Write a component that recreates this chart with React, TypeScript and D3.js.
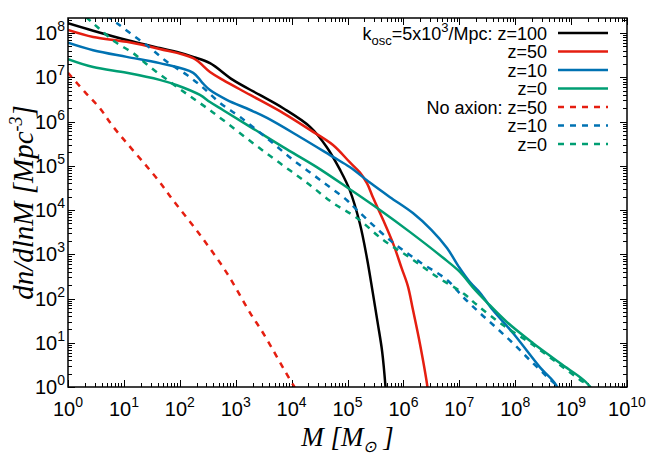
import React, { useRef, useEffect } from 'react';
import * as d3 from 'd3';

// tamanho da figura
const width = 664;
const height = 465;
const margin = { top: 18, right: 37, bottom: 78, left: 68 };

// decadas dos eixos
const xDecades = [0, 1, 2, 3, 4, 5, 6, 7, 8, 9, 10];
const yDecades = [0, 1, 2, 3, 4, 5, 6, 7, 8];

// curvas: [log10 M, log10 dn/dlnM]
const axionZ100 = [[0, 8.22], [0.45, 8.05], [1.05, 7.84], [1.64, 7.66], [1.95, 7.57], [2.24, 7.46], [2.54, 7.32], [2.95, 6.94], [3.43, 6.6], [3.85, 6.3], [4.33, 5.88], [4.63, 5.42], [4.87, 4.9], [5.04, 4.45], [5.22, 3.7], [5.35, 2.9], [5.45, 2.15], [5.54, 1.45], [5.62, 0.8], [5.68, 0], [5.7, -0.4]];
const axionZ50 = [[0, 8.07], [0.45, 7.91], [1.05, 7.8], [1.64, 7.64], [2.24, 7.43], [2.54, 7.12], [2.77, 6.94], [3.26, 6.6], [3.85, 6.19], [4.33, 5.81], [4.74, 5.47], [5.04, 5.08], [5.22, 4.85], [5.35, 4.6], [5.46, 4.27], [5.64, 3.77], [5.82, 3.23], [5.97, 2.68], [6.08, 2.28], [6.17, 1.75], [6.3, 0.95], [6.43, 0], [6.46, -0.4]];
const axionZ10 = [[0, 7.78], [0.45, 7.61], [1.05, 7.46], [1.64, 7.32], [2.24, 7.1], [2.4, 6.88], [2.54, 6.71], [2.84, 6.49], [3.26, 6.26], [3.56, 6.08], [4.15, 5.65], [4.74, 5.2], [5.04, 4.97], [5.4, 4.62], [5.76, 4.29], [6.17, 3.93], [6.5, 3.55], [6.78, 3.14], [7.0, 2.7], [7.19, 2.37], [7.37, 2.13], [7.6, 1.74], [7.96, 1.22], [8.44, 0.45], [8.75, 0], [8.78, -0.4]];
const axionZ0 = [[0, 7.41], [0.45, 7.23], [1.05, 7.1], [1.64, 6.94], [1.95, 6.82], [2.36, 6.6], [2.54, 6.44], [2.77, 6.26], [3.26, 5.88], [3.85, 5.42], [4.45, 4.97], [5.04, 4.47], [5.58, 4.0], [6.12, 3.5], [6.71, 2.92], [7.01, 2.6], [7.25, 2.24], [7.49, 1.92], [7.85, 1.47], [8.32, 0.99], [8.8, 0.54], [9.34, 0], [9.38, -0.4]];
const noAxionZ50 = [[0, 7.1], [0.3, 6.67], [0.57, 6.3], [0.81, 5.88], [1.61, 4.68], [1.88, 4.22], [2.36, 3.44], [2.84, 2.58], [3.26, 1.67], [3.49, 1.22], [4.0, 0.1], [4.05, 0], [4.08, -0.4]];
const noAxionZ10 = [[0, 9.05], [0.75, 8.34], [1.11, 8.0], [1.47, 7.66], [1.77, 7.35], [2.13, 7.05], [2.42, 6.76], [2.72, 6.42], [3.08, 6.1], [3.56, 5.62], [4.03, 5.13], [4.51, 4.68], [4.99, 4.22], [5.17, 4.0], [5.76, 3.32], [6.3, 2.82], [6.78, 2.42], [7.07, 2.03], [7.37, 1.67], [7.67, 1.33], [7.96, 0.99], [8.26, 0.61], [8.57, 0.23], [8.75, 0], [8.8, -0.4]];
const noAxionZ0 = [[0, 8.72], [0.34, 8.34], [0.52, 8.14], [0.84, 7.8], [1.16, 7.55], [1.47, 7.23], [1.82, 6.9], [2.15, 6.6], [2.49, 6.3], [2.84, 5.97], [3.31, 5.51], [3.79, 5.06], [4.28, 4.61], [4.74, 4.16], [5.17, 3.82], [5.64, 3.32], [6.12, 2.92], [6.6, 2.49], [7.07, 2.12], [7.32, 1.85], [7.78, 1.4], [8.32, 0.95], [8.8, 0.5], [9.16, 0.16], [9.34, 0], [9.38, -0.4]];

const legendLabels = ['z=100', 'z=50', 'z=10', 'z=0', 'No axion: z=50', 'z=10', 'z=0'];

const series = [
    { data: axionZ100, color: '#000000', dashed: false },
    { data: axionZ50, color: '#e51e10', dashed: false },
    { data: axionZ10, color: '#0072b2', dashed: false },
    { data: axionZ0, color: '#009e73', dashed: false },
    { data: noAxionZ50, color: '#e51e10', dashed: true },
    { data: noAxionZ10, color: '#0072b2', dashed: true },
    { data: noAxionZ0, color: '#009e73', dashed: true },
];

const sans = "'Liberation Sans', Arial, Helvetica, sans-serif";
const serif = "'Liberation Serif', 'Times New Roman', serif";

export default function App() {
    const svgRef = useRef(null);

    useEffect(() => {
        if (!svgRef.current) return;
        const svg = d3.select(svgRef.current);
        svg.selectAll('*').remove();

        const yTop = Math.pow(10, 8.339);
        const x = d3.scaleLog().domain([1, 1e10]).range([margin.left, width - margin.right]);
        const y = d3.scaleLog().domain([1, yTop]).range([height - margin.bottom, margin.top]);
        const [x0, x1] = x.range();
        const [y0, y1] = y.range();

        svg.append('defs').append('clipPath').attr('id', 'plotClip')
            .append('rect')
            .attr('x', x0).attr('y', y1)
            .attr('width', x1 - x0).attr('height', y0 - y1);

        // ticks em todos os lados (para dentro)
        const ticks = svg.append('g').attr('stroke', '#000').attr('stroke-width', 1);
        xDecades.forEach(d => {
            for (let m = 1; m <= 9; m++) {
                if (d === 10 && m > 1) break;
                const v = m * Math.pow(10, d);
                const len = m === 1 ? 7 : 4;
                const px = Math.round(x(v)) + 0.5;
                ticks.append('line').attr('x1', px).attr('x2', px).attr('y1', y0).attr('y2', y0 - len);
                ticks.append('line').attr('x1', px).attr('x2', px).attr('y1', y1).attr('y2', y1 + len);
            }
        });
        yDecades.forEach(d => {
            for (let m = 1; m <= 9; m++) {
                const v = m * Math.pow(10, d);
                if (v > yTop) break;
                const len = m === 1 ? 7 : 4;
                const py = Math.round(y(v)) + 0.5;
                ticks.append('line').attr('y1', py).attr('y2', py).attr('x1', x0).attr('x2', x0 + len);
                ticks.append('line').attr('y1', py).attr('y2', py).attr('x1', x1).attr('x2', x1 - len);
            }
        });

        // curvas
        const line = d3.line()
            .x(d => x(Math.pow(10, d[0])))
            .y(d => y(Math.pow(10, d[1])))
            .curve(d3.curveCatmullRom.alpha(0.5));

        const curves = svg.append('g').attr('clip-path', 'url(#plotClip)');
        series.forEach(s => {
            curves.append('path')
                .attr('d', line(s.data))
                .attr('fill', 'none')
                .attr('stroke', s.color)
                .attr('stroke-width', 2.5)
                .attr('stroke-dasharray', s.dashed ? '6,6' : null);
        });

        // moldura
        svg.append('rect')
            .attr('x', x0).attr('y', y1)
            .attr('width', x1 - x0).attr('height', y0 - y1)
            .attr('fill', 'none').attr('stroke', '#000').attr('stroke-width', 1.5);

        // rotulos dos ticks
        const xl = svg.append('g').style('font-family', sans).style('font-size', '20px').attr('fill', '#000');
        xDecades.forEach(d => {
            const t = xl.append('text').attr('x', x(Math.pow(10, d))).attr('y', y0 + 29).attr('text-anchor', 'middle');
            t.append('tspan').text('10');
            t.append('tspan').attr('dy', -9).style('font-size', '14px').text(d);
        });
        const yl = svg.append('g').style('font-family', sans).style('font-size', '20px').attr('fill', '#000');
        yDecades.forEach(d => {
            const t = yl.append('text').attr('x', x0 - 3).attr('y', y(Math.pow(10, d)) + 7).attr('text-anchor', 'end');
            t.append('tspan').text('10');
            t.append('tspan').attr('dy', -9).style('font-size', '14px').text(d);
        });

        // titulos dos eixos
        const xt = svg.append('text')
            .attr('x', (x0 + x1) / 2).attr('y', 446)
            .attr('text-anchor', 'middle')
            .style('font-family', serif).style('font-style', 'italic').style('font-size', '27px');
        xt.append('tspan').text('M [M');
        xt.append('tspan').attr('dy', 6).style('font-size', '16px').text('\u2299');
        xt.append('tspan').attr('dy', -6).text(' ]');

        const yt = svg.append('text')
            .attr('transform', `translate(33,${(y0 + y1) / 2}) rotate(-90)`)
            .attr('text-anchor', 'middle')
            .style('font-family', serif).style('font-style', 'italic').style('font-size', '29px');
        yt.append('tspan').text('dn/dlnM [Mpc');
        yt.append('tspan').attr('dy', -11).style('font-size', '18px').text('-3');
        yt.append('tspan').attr('dy', 11).text(']');

        // legenda
        const leg = svg.append('g').style('font-family', sans).style('font-size', '18px');
        legendLabels.forEach((lab, i) => {
            const ly = 33 + i * 18.5;
            const t = leg.append('text').attr('x', 547).attr('y', ly + 6.5).attr('text-anchor', 'end');
            if (i === 0) {
                t.append('tspan').text('k');
                t.append('tspan').attr('dy', 5).style('font-size', '13px').text('osc');
                t.append('tspan').attr('dy', -5).text('=5x10');
                t.append('tspan').attr('dy', -8).style('font-size', '13px').text('3');
                t.append('tspan').attr('dy', 8).text('/Mpc: ' + lab);
            } else {
                t.text(lab);
            }
            leg.append('line')
                .attr('x1', 558).attr('x2', 608)
                .attr('y1', ly).attr('y2', ly)
                .attr('stroke', series[i].color)
                .attr('stroke-width', 2.5)
                .attr('stroke-dasharray', series[i].dashed ? '6,6' : null);
        });
    }, []);

    return (
        <div style={{ position: 'absolute', left: 0, top: 0 }}>
            <svg ref={svgRef} width={width} height={height} style={{ display: 'block', background: '#fff' }}></svg>
        </div>
    );
}
